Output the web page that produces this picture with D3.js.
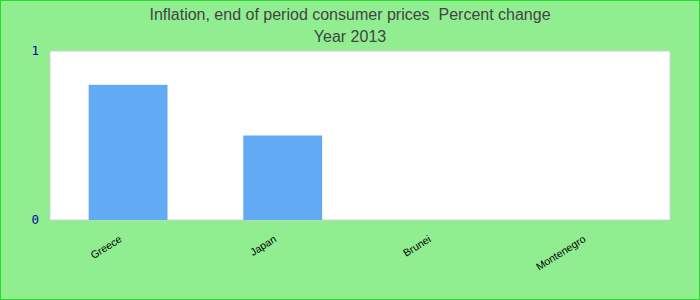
<!DOCTYPE html>
<html>
<head>
<meta charset="utf-8">
<script src="https://cdn.jsdelivr.net/npm/d3@7"></script>
<style>
  html, body { margin: 0; padding: 0; background: #fff; }
  svg { display: block; }
</style>
</head>
<body>
<script>
// chart values
const categories = ["Greece", "Japan", "Brunei", "Montenegro"];
const values = [0.8, 0.5, 0, 0];
const yTicks = [0, 1];
const titleLines = ["Inflation, end of period consumer prices  Percent change", "Year 2013"];

const width = 700, height = 300;
const margin = { top: 51, right: 30, bottom: 80, left: 50 };

const svg = d3.select("body").append("svg")
  .attr("width", width).attr("height", height);

// background + outer border
svg.append("rect")
  .attr("x", 0.5).attr("y", 0.5)
  .attr("width", width - 1).attr("height", height - 1)
  .attr("fill", "#90ee90").attr("stroke", "#22dd22").attr("stroke-width", 1);

const x = d3.scaleBand()
  .domain(categories)
  .range([margin.left, width - margin.right])
  .paddingInner(0.49).paddingOuter(0.25);

const y = d3.scaleLinear()
  .domain([0, 1])
  .range([height - margin.bottom, margin.top]);

// plot area
svg.append("rect")
  .attr("x", margin.left).attr("y", margin.top)
  .attr("width", width - margin.left - margin.right)
  .attr("height", height - margin.top - margin.bottom)
  .attr("fill", "#fff").attr("stroke", "#d0d0d0").attr("stroke-width", 1);

// bars
svg.append("g").selectAll("rect")
  .data(values)
  .join("rect")
  .attr("x", (d, i) => x(categories[i]))
  .attr("y", d => y(d))
  .attr("width", x.bandwidth())
  .attr("height", d => y(0) - y(d))
  .attr("fill", "#63aaf5");

// y axis labels
const yAxis = svg.append("g")
  .attr("transform", `translate(${margin.left - 8},0)`)
  .call(d3.axisLeft(y).tickValues(yTicks).tickFormat(d3.format("d")).tickSize(0));
yAxis.select(".domain").remove();
yAxis.selectAll("text")
  .attr("fill", "#0000aa")
  .attr("font-family", "DejaVu Sans Mono, monospace")
  .attr("font-size", 12.5)
  .attr("dy", "0.3em");

// x axis labels
const xAxis = svg.append("g")
  .attr("transform", `translate(0,${height - margin.bottom})`)
  .call(d3.axisBottom(d3.scalePoint().domain(categories)
      .range([x(categories[0]) + x.bandwidth() / 2, x(categories[categories.length - 1]) + x.bandwidth() / 2]))
    .tickSize(0));
xAxis.select(".domain").remove();
xAxis.selectAll("text")
  .attr("fill", "#000")
  .attr("font-family", "Liberation Sans, Arial, sans-serif")
  .attr("font-size", 10.5)
  .attr("text-anchor", "end")
  .attr("dy", null)
  .attr("y", 0)
  .attr("transform", "translate(-6,21) rotate(-32)");

// title
svg.append("g").selectAll("text")
  .data(titleLines)
  .join("text")
  .attr("x", width / 2)
  .attr("y", (d, i) => 20 + i * 22)
  .attr("text-anchor", "middle")
  .attr("font-family", "Liberation Sans, Arial, sans-serif")
  .attr("font-size", 16)
  .attr("fill", "#444")
  .style("white-space", "pre")
  .text(d => d);
</script>
</body>
</html>
